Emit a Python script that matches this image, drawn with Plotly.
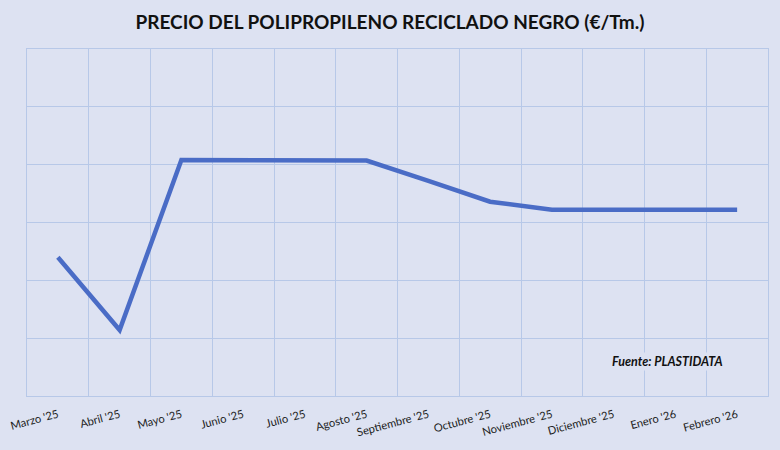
"""
Precio del polipropileno reciclado negro (€/Tm.) - marzo '25 a febrero '26.
"""

import plotly.graph_objects as go

MESES = ["Marzo '25", "Abril '25", "Mayo '25", "Junio '25", "Julio '25", "Agosto '25",
         "Septiembre '25", "Octubre '25", "Noviembre '25", "Diciembre '25",
         "Enero '26", "Febrero '26"]

# valores estimados a partir del gráfico (la escala no tiene etiquetas)
PRECIO = [840, 714, 1008, 1008, 1007, 1007, 972, 936, 922, 922, 922, 922]

BG = "#DDE2F2"
GRID = "#B7C8E8"

fig = go.Figure()

fig.add_trace(go.Scatter(
    x=MESES,
    y=PRECIO,
    mode="lines",
    line=dict(color="#4A6CC6", width=4.5),
    showlegend=False,
))

fig.add_annotation(
    x=0.865, y=0.1, xref="paper", yref="paper",
    xanchor="center", yanchor="middle",
    text="<b><i>Fuente: PLASTIDATA</i></b>",
    showarrow=False,
    font=dict(family="Lato", size=12.5, color="#111111"),
    bgcolor=BG,
)

fig.update_layout(
    title=dict(
        text="<b>PRECIO DEL POLIPROPILENO RECICLADO NEGRO (€/Tm.)</b>",
        x=0.5, xanchor="center", y=0.95, yanchor="middle",
        font=dict(family="Lato", size=19, color="#111111"),
    ),
    width=780,
    height=450,
    paper_bgcolor=BG,
    plot_bgcolor=BG,
    margin=dict(l=27, r=12, t=49, b=54),
    xaxis=dict(
        type="category",
        range=[-0.5, len(MESES) - 0.5],
        tickson="boundaries",
        showgrid=True,
        gridcolor=GRID,
        gridwidth=1,
        ticks="",
        tickangle=-15,
        ticklabelstandoff=7,
        tickfont=dict(family="Lato", size=11.2, color="#222222"),
        showline=True,
        linecolor=GRID,
        mirror=True,
        zeroline=False,
        automargin=False,
    ),
    yaxis=dict(
        range=[600, 1200],
        dtick=100,
        showgrid=True,
        gridcolor=GRID,
        gridwidth=1,
        showticklabels=False,
        zeroline=False,
        showline=True,
        linecolor=GRID,
        mirror=True,
        automargin=False,
    ),
)

fig.write_html("out.html", config={"displayModeBar": False},
               post_script="document.body.style.margin='0';")
